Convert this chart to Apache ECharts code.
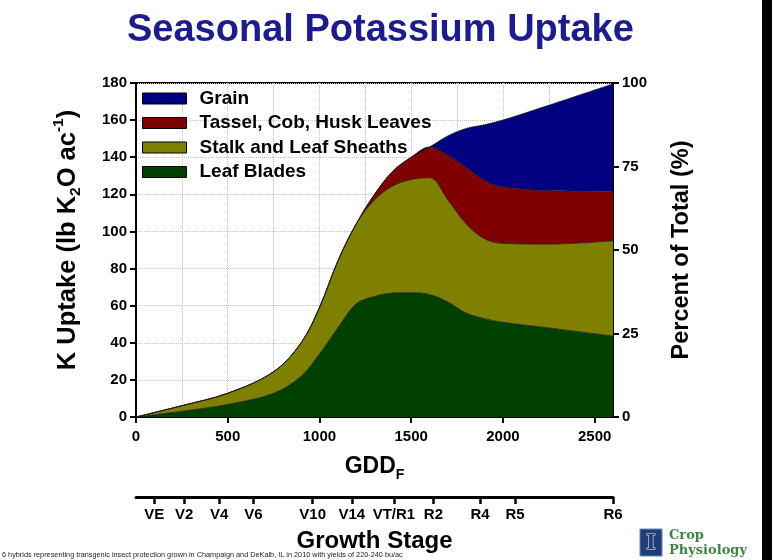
<!DOCTYPE html>
<html>
<head>
<meta charset="utf-8">
<script src="https://cdn.jsdelivr.net/npm/echarts@6/dist/echarts.min.js"></script>
<style>
  html, body { margin: 0; padding: 0; background: #fff; }
  #chart { width: 772px; height: 560px; }
</style>
</head>
<body>
<div id="chart"></div>
<script>
// GDD (F) sampling points
const gdd = [0, 250, 500, 750, 900, 1000, 1100, 1200, 1300, 1400, 1500, 1600, 1700, 1800, 1900, 2000, 2250, 2600]
// K uptake per plant part, lb K2O/ac (stacked)
const leafBlades = [0, 3.1, 6.8, 12.8, 22, 34, 48, 61, 65, 66.8, 67, 66, 62, 56, 53, 51, 48, 43.6]
const stalkSheaths = [0, 3.0, 6.0, 11.6, 18, 25, 36, 43, 52, 57.7, 61, 63, 55, 48, 43, 42.6, 45.2, 51.4]
const tasselCobHusk = [0, 0, 0, 0, 0, 0, 0, 0, 3, 8, 12, 16.5, 24, 30.5, 31.5, 30.4, 28.8, 26.4]
const grain = [0, 0, 0, 0, 0, 0, 0, 0, 0, 0, 0, 0, 10.5, 21, 30, 36, 46, 58.1]

// growth stage scale under the GDD axis
const stageNames = ['VE', 'V2', 'V4', 'V6', 'V10', 'V14', 'VT/R1', 'R2', 'R4', 'R5', 'R6']
const stageGdd = [100, 263, 454, 640, 963, 1176, 1406, 1621, 1875, 2066, 2600]

const font = 'Liberation Sans, Arial, sans-serif'
const chart = echarts.init(document.getElementById('chart'), null, { renderer: 'canvas' })

// value first so the stack goes on the y dimension (x is a value axis too)
const mkSeries = (name, values, color) => ({
  name: name,
  type: 'line',
  stack: 'k',
  smooth: 0.35,
  symbol: 'none',
  color: color,
  encode: { x: 1, y: 0 },
  lineStyle: { color: '#1a1a1a', width: 0.8 },
  areaStyle: { color: color, opacity: 1 },
  data: gdd.map((g, i) => [values[i], g]),
  animation: false
})

const option = {
  title: {
    text: 'Seasonal Potassium Uptake',
    left: 122,
    top: 7,
    textStyle: { fontFamily: font, fontSize: 38, fontWeight: 'bold', color: '#1c1c90' }
  },
  legend: {
    orient: 'vertical',
    left: 142,
    top: 89,
    padding: 0,
    itemWidth: 44,
    itemHeight: 11,
    itemGap: 5.5,
    icon: 'rect',
    itemStyle: { borderColor: '#000', borderWidth: 1 },
    textStyle: { fontFamily: font, fontSize: 19, fontWeight: 'bold', color: '#000', padding: [0, 0, 0, 8] },
    data: ['Grain', 'Tassel, Cob, Husk Leaves', 'Stalk and Leaf Sheaths', 'Leaf Blades']
  },
  grid: [
    { left: 136, right: 159, top: 83, bottom: 143, show: true, borderColor: '#000', borderWidth: 2 },
    { left: 136, right: 159, top: 497, height: 0 }
  ],
  xAxis: [
    {
      type: 'value',
      gridIndex: 0,
      min: 0,
      max: 2600,
      interval: 500,
      name: '{a|GDD}{s|F}',
      nameLocation: 'middle',
      nameGap: 35,
      nameTextStyle: {
        rich: {
          a: { fontFamily: font, fontSize: 23, fontWeight: 'bold', color: '#000', lineHeight: 30 },
          s: { fontFamily: font, fontSize: 14, fontWeight: 'bold', color: '#000', lineHeight: 30, verticalAlign: 'bottom' }
        }
      },
      axisLine: { lineStyle: { color: '#000', width: 2 } },
      axisTick: { length: 6, lineStyle: { color: '#000', width: 2 } },
      axisLabel: { fontFamily: font, fontSize: 15, fontWeight: 'bold', color: '#000', margin: 12, formatter: v => String(v) },
      splitLine: { show: true, lineStyle: { color: '#c4c4c4', type: 'dotted', width: 1 } },
      minorTick: { show: false, splitNumber: 2 },
      minorSplitLine: { show: true, lineStyle: { color: '#c4c4c4', type: 'dotted', width: 1 } }
    },
    {
      type: 'value',
      gridIndex: 1,
      min: 0,
      max: 2600,
      name: 'Growth Stage',
      nameLocation: 'middle',
      nameGap: 32,
      nameTextStyle: { fontFamily: font, fontSize: 24, fontWeight: 'bold', color: '#000' },
      axisLine: { lineStyle: { color: '#000', width: 3 } },
      axisTick: { customValues: stageGdd, length: 7, lineStyle: { color: '#000', width: 2.5 } },
      axisLabel: {
        customValues: stageGdd,
        fontFamily: font, fontSize: 15, fontWeight: 'bold', color: '#000', margin: 10,
        formatter: v => stageNames[stageGdd.indexOf(v)]
      },
      splitLine: { show: false }
    }
  ],
  yAxis: [
    {
      type: 'value',
      gridIndex: 0,
      min: 0,
      max: 180,
      interval: 20,
      name: '{a|K Uptake (lb K}{s|2}{a|O ac}{p|-1}{a|)}',
      nameLocation: 'middle',
      nameGap: 52,
      nameTextStyle: {
        padding: [0, 0, 0, 20],
        rich: {
          a: { fontFamily: font, fontSize: 25.5, fontWeight: 'bold', color: '#000', lineHeight: 33 },
          s: { fontFamily: font, fontSize: 15.5, fontWeight: 'bold', color: '#000', lineHeight: 33, verticalAlign: 'bottom' },
          p: { fontFamily: font, fontSize: 15.5, fontWeight: 'bold', color: '#000', lineHeight: 33, verticalAlign: 'top' }
        }
      },
      axisLine: { show: true, lineStyle: { color: '#000', width: 2 } },
      axisTick: { show: true, length: 6, lineStyle: { color: '#000', width: 2 } },
      axisLabel: { fontFamily: font, fontSize: 15, fontWeight: 'bold', color: '#000', margin: 9 },
      splitLine: { show: true, lineStyle: { color: '#c4c4c4', type: 'dotted', width: 1 } }
    },
    {
      type: 'value',
      gridIndex: 0,
      position: 'right',
      min: 0,
      max: 100,
      interval: 25,
      name: 'Percent of Total (%)',
      nameLocation: 'middle',
      nameGap: 57,
      nameRotate: 90,
      nameTextStyle: { fontFamily: font, fontSize: 23.5, fontWeight: 'bold', color: '#000' },
      axisLine: { show: true, lineStyle: { color: '#000', width: 2 } },
      axisTick: { show: true, length: 6, lineStyle: { color: '#000', width: 2 } },
      axisLabel: { fontFamily: font, fontSize: 15, fontWeight: 'bold', color: '#000', margin: 9 },
      splitLine: { show: false }
    },
    { type: 'value', gridIndex: 1, show: false }
  ],
  series: [
    mkSeries('Leaf Blades', leafBlades, '#004000'),
    mkSeries('Stalk and Leaf Sheaths', stalkSheaths, '#808000'),
    mkSeries('Tassel, Cob, Husk Leaves', tasselCobHusk, '#800000'),
    mkSeries('Grain', grain, '#000080')
  ],
  graphic: [
    {
      type: 'text',
      left: 2,
      top: 551,
      style: {
        text: '6 hybrids representing transgenic insect protection grown in Champaign and DeKalb, IL in 2010 with yields of 220-240 bu/ac',
        font: '7.3px ' + font,
        fill: '#222'
      }
    },
    { type: 'rect', shape: { x: 640, y: 529, width: 22, height: 27 }, style: { fill: '#1f3d7a', stroke: '#6d86b3', lineWidth: 1 } },
    {
      type: 'text',
      x: 651, y: 543,
      style: { text: 'I', font: 'bold 24px Liberation Serif, serif', fill: '#1f3d7a', stroke: '#e8e8e8', lineWidth: 1.2, align: 'center', verticalAlign: 'middle' }
    },
    {
      type: 'text',
      x: 669, y: 536,
      style: { text: 'Crop', font: 'bold 13px DejaVu Serif, serif', fill: '#3f8440', verticalAlign: 'middle' }
    },
    {
      type: 'text',
      x: 669, y: 551,
      style: { text: 'Physiology', font: 'bold 13px DejaVu Serif, serif', fill: '#3f8440', verticalAlign: 'middle' }
    },
    { type: 'rect', shape: { x: 762, y: 0, width: 10, height: 560 }, style: { fill: '#000' } }
  ]
}

chart.setOption(option)
</script>
</body>
</html>
